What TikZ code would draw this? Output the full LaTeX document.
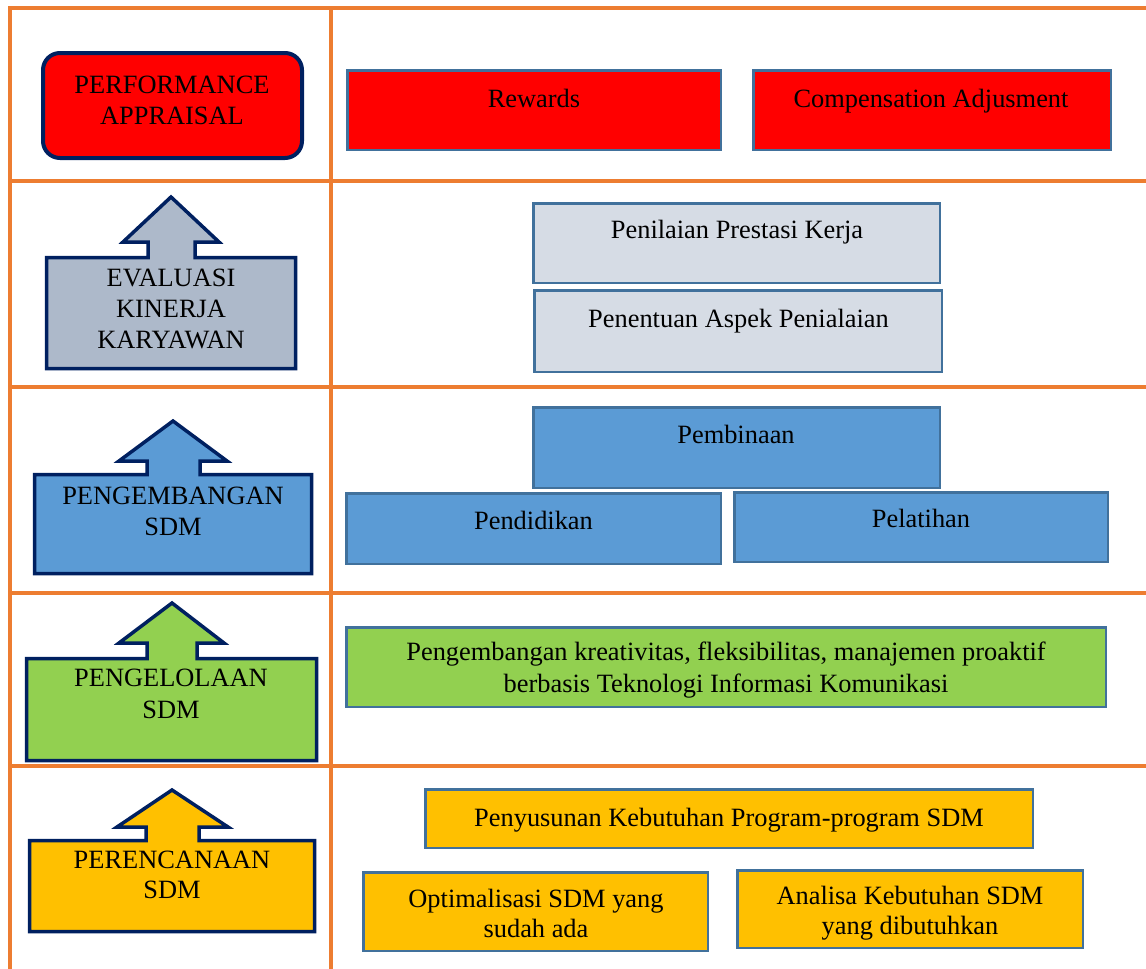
\documentclass[tikz,border=0pt]{standalone}
\usepackage{fontspec}
\setmainfont{Liberation Serif}
\definecolor{gridor}{HTML}{ED7D31}
\definecolor{navy}{HTML}{002060}
\definecolor{bord}{HTML}{41719C}
\definecolor{grayb}{HTML}{ADB9CA}
\definecolor{lgray}{HTML}{D6DCE5}
\definecolor{mblue}{HTML}{5B9BD5}
\definecolor{lgreen}{HTML}{92D050}
\definecolor{gold}{HTML}{FFC000}
\tikzset{
  gridline/.style={draw=gridor, line width=3.8pt},
  leftshape/.style={draw=navy, line width=3.5pt, line join=miter},
  rbox/.style={draw=bord, line width=2.5pt, rectangle, inner sep=0pt, outer sep=0pt},
  txt/.style={font=\fontsize{26.4}{31}\selectfont, anchor=base, align=center, inner sep=0pt, text=black},
}
\begin{document}
\begin{tikzpicture}[x=1pt,y=-1pt]
\useasboundingbox (0,0) rectangle (1146,969);
% grid
\draw[gridline] (10,8) -- (1146,8);
\draw[gridline] (10,181) -- (1146,181);
\draw[gridline] (10,387) -- (1146,387);
\draw[gridline] (10,593) -- (1146,593);
\draw[gridline] (10,766) -- (1146,766);
\draw[gridline] (10,6.1) -- (10,969);
\draw[gridline] (331,6.1) -- (331,969);

% left column (multi-line nodes: base anchor = last line's baseline)
\node[draw=navy, line width=4pt, fill=red, rounded corners=17pt, minimum width=259pt, minimum height=105pt, inner sep=0pt] (pa) at (172.5,105.5) {};
\node[txt] (patext) at (172,124) {PERFORMANCE\\APPRAISAL};

\draw[leftshape, fill=grayb] (46.5,257.5) -- (148,257.5) -- (148,242) -- (123,242) -- (171,197) -- (219,242) -- (195,242) -- (195,257.5) -- (295.5,257.5) -- (295.5,368.5) -- (46.5,368.5) -- cycle;
\node[txt] (evtext) at (171,348) {EVALUASI\\KINERJA\\KARYAWAN};

\draw[leftshape, fill=mblue] (34.5,474.5) -- (147,474.5) -- (147,461) -- (119,461) -- (173,421) -- (227,461) -- (200,461) -- (200,474.5) -- (311.5,474.5) -- (311.5,573.5) -- (34.5,573.5) -- cycle;
\node[txt] (pgtext) at (173,535) {PENGEMBANGAN\\SDM};

\draw[leftshape, fill=lgreen] (26.5,658.5) -- (147,658.5) -- (147,643) -- (119,643) -- (172,603) -- (224,643) -- (197,643) -- (197,658.5) -- (316.5,658.5) -- (316.5,760.5) -- (26.5,760.5) -- cycle;
\node[txt, font=\fontsize{26.4}{32}\selectfont] (pltext) at (171,718) {PENGELOLAAN\\SDM};

\draw[leftshape, fill=gold] (29.5,840.5) -- (146,840.5) -- (146,827) -- (117,827) -- (172,790) -- (228,827) -- (199,827) -- (199,840.5) -- (314.5,840.5) -- (314.5,931.5) -- (29.5,931.5) -- cycle;
\node[txt, font=\fontsize{26.4}{30}\selectfont] (prtext) at (172,898) {PERENCANAAN\\SDM};

% right column
\node[rbox, fill=red, minimum width=373.5pt, minimum height=79.5pt] (rew) at (534,110) {};
\node[txt] (rewtext) at (534,107) {Rewards};
\node[rbox, fill=red, minimum width=357.5pt, minimum height=79.5pt] (comp) at (932,110) {};
\node[txt] (comptext) at (931,107) {Compensation Adjusment};

\node[rbox, fill=lgray, minimum width=406.5pt, minimum height=79.5pt] (pnl) at (736.5,243) {};
\node[txt] (pnltext) at (737,238) {Penilaian Prestasi Kerja};
\node[rbox, fill=lgray, minimum width=407.5pt, minimum height=81.5pt] (pnt) at (738,331) {};
\node[txt] (pnttext) at (738.5,327) {Penentuan Aspek Penialaian};

\node[rbox, fill=mblue, minimum width=406.5pt, minimum height=80.5pt] (pemb) at (736.5,447.5) {};
\node[txt] (pembtext) at (736,443) {Pembinaan};
\node[rbox, fill=mblue, minimum width=374.5pt, minimum height=70.5pt] (pend) at (533.5,528.5) {};
\node[txt] (pendtext) at (533.5,529) {Pendidikan};
\node[rbox, fill=mblue, minimum width=373.5pt, minimum height=69.5pt] (pel) at (921,527) {};
\node[txt] (peltext) at (921,527) {Pelatihan};

\node[rbox, fill=lgreen, minimum width=759.5pt, minimum height=79.5pt] (kre) at (726,667) {};
\node[txt, font=\fontsize{26.4}{32}\selectfont] (kretext) at (726,692) {Pengembangan kreativitas, fleksibilitas, manajemen proaktif\\berbasis Teknologi Informasi Komunikasi};

\node[rbox, fill=gold, minimum width=607.5pt, minimum height=58.5pt] (pny) at (729,818.5) {};
\node[txt] (pnytext) at (729,826) {Penyusunan Kebutuhan Program-program SDM};
\node[rbox, fill=gold, minimum width=344.5pt, minimum height=78.5pt] (opt) at (535.5,911.5) {};
\node[txt, font=\fontsize{26.4}{30}\selectfont] (opttext) at (536,937) {Optimalisasi SDM yang\\sudah ada};
\node[rbox, fill=gold, minimum width=345.5pt, minimum height=77.5pt] (ana) at (910,909) {};
\node[txt, font=\fontsize{26.4}{30}\selectfont] (anatext) at (910,934) {Analisa Kebutuhan SDM\\yang dibutuhkan};
\end{tikzpicture}
\end{document}
